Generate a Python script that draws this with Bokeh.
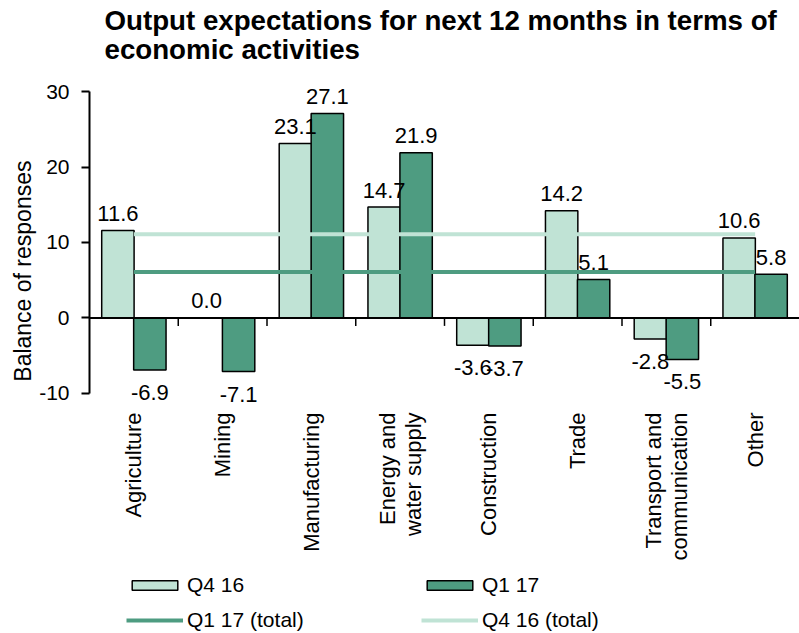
import math
from bokeh.plotting import figure
from bokeh.models import (ColumnDataSource, FactorRange, Range1d, Legend, LegendItem,
                          Span, FixedTicker, Title, PrintfTickFormatter)
from bokeh.transform import dodge
from bokeh.core.properties import value
from bokeh.embed import file_html
from bokeh.resources import INLINE

# ---------------- data ----------------
categories = ["Agriculture", "Mining", "Manufacturing", "Energy and\nwater supply",
              "Construction", "Trade", "Transport and\ncommunication", "Other"]
q4_16 = [11.6, 0.0, 23.1, 14.7, -3.6, 14.2, -2.8, 10.6]
q1_17 = [-6.9, -7.1, 27.1, 21.9, -3.7, 5.1, -5.5, 5.8]
q4_16_total = 11.1
q1_17_total = 6.1
y_ticks = [-10, 0, 10, 20, 30]
series_names = ["Q4 16", "Q1 17"]
total_names = ["Q1 17 (total)", "Q4 16 (total)"]
title_lines = ["Output expectations for next 12 months in terms of", "economic activities"]
y_title = "Balance of responses"

# ---------------- style / layout ----------------
LIGHT = "#c0e3d5"
DARK = "#4e9c81"
FONT = "Liberation Sans"
# the frame is larger than the value axis (which spans -10..30 only) so that the value
# labels, the category labels and the legend, all drawn inside it, are not clipped
Y_BOTTOM = -41.8
Y_TOP = 33.05

p = figure(width=799, height=633,
           x_range=FactorRange(*categories, range_padding=0, factor_padding=0),
           y_range=Range1d(Y_BOTTOM, Y_TOP),
           output_backend="svg", toolbar_location=None,
           min_border_left=89, min_border_right=0, min_border_top=68, min_border_bottom=0,
           background_fill_color="white", border_fill_color="white")
p.outline_line_color = None
p.grid.grid_line_color = None
p.title.visible = False
p.xaxis.visible = False

p.add_layout(Title(text="\n".join(title_lines), text_font=FONT, text_font_size="27.7px",
                   text_font_style="bold", text_color="black", text_line_height=0.95,
                   align="left", offset=15, standoff=6), "above")

BW = 0.365
OFF = 0.18
src_q4 = ColumnDataSource(dict(cat=categories, val=q4_16))
src_q1 = ColumnDataSource(dict(cat=categories, val=q1_17))
r_q4 = p.vbar(x=dodge("cat", -OFF, range=p.x_range), top="val", bottom=0, width=BW, source=src_q4,
              fill_color=LIGHT, line_color="black", line_width=1.5)
r_q1 = p.vbar(x=dodge("cat", OFF, range=p.x_range), top="val", bottom=0, width=BW, source=src_q1,
              fill_color=DARK, line_color="black", line_width=1.5)

# total lines from first to last category centre
r_t4 = p.line(x=[categories[0], categories[-1]], y=[q4_16_total, q4_16_total],
              line_color=LIGHT, line_width=4)
r_t1 = p.line(x=[categories[0], categories[-1]], y=[q1_17_total, q1_17_total],
              line_color=DARK, line_width=4)

# value labels: above positive bars, below negative ones
for vals, d in ((q4_16, -OFF), (q1_17, OFF)):
    pos = [(c, v) for c, v in zip(categories, vals) if v >= 0]
    neg = [(c, v) for c, v in zip(categories, vals) if v < 0]
    for grp, base, yoff in ((pos, "alphabetic", -17), (neg, "top", 15)):
        if not grp:
            continue
        s = ColumnDataSource(dict(cat=[g[0] for g in grp], val=[g[1] for g in grp],
                                  lbl=[f"{g[1]:.1f}" for g in grp]))
        p.text(x=dodge("cat", d, range=p.x_range), y="val", text="lbl", source=s,
               text_align="center", text_baseline=base, y_offset=yoff,
               text_font=value(FONT), text_font_size="22px", text_color="black")

# zero line with category boundary ticks
p.add_layout(Span(location=0, dimension="width", line_color="black", line_width=2))
p.segment(x0=dodge("cat", 0.5, range=p.x_range), x1=dodge("cat", 0.5, range=p.x_range),
          y0=0, y1=-1.05, source=ColumnDataSource(dict(cat=categories[:-1])),
          line_color="black", line_width=1.5)

# category labels, vertical, hanging below the bottom of the value axis
p.text(x="cat", y=y_ticks[0], text="cat", source=ColumnDataSource(dict(cat=categories)),
       angle=math.pi / 2, text_align="right", text_baseline="middle", y_offset=19,
       text_font=value(FONT), text_font_size="22px", text_color="black", text_line_height=1.05)

# y axis
ya = p.yaxis[0]
ya.ticker = FixedTicker(ticks=y_ticks)
ya.bounds = (y_ticks[0], y_ticks[-1])
ya.formatter = PrintfTickFormatter(format="%d")
ya.axis_line_width = 2
ya.major_tick_out = 8
ya.major_tick_in = 0
ya.major_tick_line_width = 2
ya.minor_tick_line_color = None
ya.major_label_text_font = FONT
ya.major_label_text_font_size = "21px"
ya.major_label_text_color = "black"
ya.major_label_standoff = 12
ya.axis_label = "\u00a0" * 25 + y_title
ya.axis_label_text_font = FONT
ya.axis_label_text_font_size = "23px"
ya.axis_label_text_font_style = "normal"
ya.axis_label_text_color = "black"
ya.axis_label_standoff = 0

# legends: two columns inside the (extended) frame
def mk_legend(items, x):
    lg = Legend(items=items, location=(x, 1), orientation="vertical",
                glyph_width=57, glyph_height=12, label_standoff=4, spacing=11, padding=0, margin=0,
                border_line_color=None, background_fill_alpha=0,
                label_text_font=FONT, label_text_font_size="21px", label_text_color="black")
    p.add_layout(lg)
    return lg

mk_legend([LegendItem(label=series_names[0], renderers=[r_q4]),
           LegendItem(label=total_names[0], renderers=[r_t1])], 37)
mk_legend([LegendItem(label=series_names[1], renderers=[r_q1]),
           LegendItem(label=total_names[1], renderers=[r_t4])], 332)

open("out.html", "w").write(file_html(p, INLINE))
